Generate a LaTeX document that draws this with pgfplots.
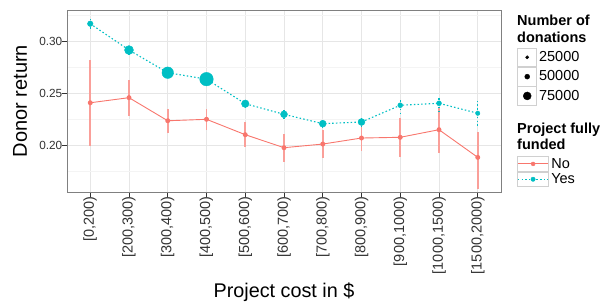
\documentclass[border=0pt]{standalone}
\usepackage{fontspec}
\setmainfont{Liberation Sans}
\usepackage{pgfplots}
\usepackage{pgfplotstable}
\pgfplotsset{compat=1.18}
\definecolor{redc}{HTML}{F8766D}
\definecolor{tealc}{HTML}{00BFC4}
\definecolor{gridmaj}{HTML}{E6E6E6}
\definecolor{gridmin}{HTML}{F4F4F4}
\definecolor{borderc}{HTML}{808080}
\definecolor{tickc}{HTML}{333333}
\definecolor{keyb}{HTML}{D0D0D0}

% Project not fully funded
\pgfplotstableread{
x y ep em
0 0.2413 0.0411 0.0416
1 0.2462 0.0170 0.0174
2 0.2240 0.0116 0.0115
3 0.2254 0.0099 0.0103
4 0.2106 0.0119 0.0121
5 0.1981 0.0129 0.0135
6 0.2016 0.0135 0.0131
7 0.2074 0.0122 0.0122
8 0.2081 0.0188 0.0187
9 0.2154 0.0215 0.0221
10 0.1888 0.0243 0.0304
}\nodata

% Project fully funded; r = marker radius (bp)
\pgfplotstableread{
x y ep em r
0 0.3173 0.0048 0.0061 2.8
1 0.2920 0.0040 0.0040 4.5
2 0.2702 0.0040 0.0040 5.8
3 0.2640 0.0040 0.0040 6.8
4 0.2404 0.0040 0.0040 3.8
5 0.2302 0.0040 0.0040 3.5
6 0.2212 0.0040 0.0040 3.5
7 0.2228 0.0040 0.0040 3.5
8 0.2389 0.0063 0.0081 2.5
9 0.2408 0.0069 0.0086 2.5
10 0.2312 0.0118 0.0129 2.2
}\yesdata

\begin{document}
\begin{tikzpicture}
\begin{axis}[
  scale only axis, width=434bp, height=182bp,
  xmin=-0.6, xmax=10.6, ymin=0.1555, ymax=0.3305,
  axis line style={draw=borderc, line width=0.8bp},
  xtick={0,...,10},
  xticklabels={{[0,200)},{[200,300)},{[300,400)},{[400,500)},{[500,600)},{[600,700)},{[700,800)},{[800,900)},{[900,1000)},{[1000,1500)},{[1500,2000)}},
  ytick={0.20,0.25,0.30},
  minor ytick={0.175,0.225,0.275,0.325},
  yticklabel style={/pgf/number format/fixed, /pgf/number format/fixed zerofill, /pgf/number format/precision=2},
  /pgf/number format/assume math mode=true,
  grid=both,
  major grid style={draw=gridmaj, line width=0.9bp},
  minor grid style={draw=gridmin, line width=0.5bp},
  tick align=outside, tick pos=left,
  major tick length=4.5bp, minor tick length=0pt,
  tick style={draw=tickc, line width=0.8bp},
  xticklabel style={rotate=90, anchor=east, inner sep=0pt, text=tickc, font=\fontsize{14.5bp}{16bp}\selectfont},
  yticklabel style={anchor=east, inner sep=0pt, text=tickc, font=\fontsize{11.8bp}{13bp}\selectfont},
  xlabel={Project cost in \$},
  ylabel={Donor return},
  xlabel style={at={(axis description cs:0.5,-0.577)}, anchor=base, inner sep=0pt, font=\fontsize{19.8bp}{22bp}\selectfont},
  ylabel style={at={(axis description cs:-0.0922,0.5)}, anchor=base, inner sep=0pt, font=\fontsize{20bp}{22bp}\selectfont},
  legend style={at={(1.0376,0.7929)}, anchor=north west, draw=none, fill=none, inner sep=0pt, outer sep=0pt, row sep=0pt,
    nodes={inner xsep=2.5bp, inner ysep=0pt, font=\fontsize{14.5bp}{16bp}\selectfont, text=black}},
  legend cell align=left,
]
% not funded: line, error bars, points
\addplot[forget plot, redc, line width=0.9bp, mark=*, mark size=2bp, mark options={solid},
  error bars/.cd, y dir=both, y explicit, error mark=none,
  error bar style={draw=redc!70, line width=1.6bp, solid}]
  table[x=x, y=y, y error plus=ep, y error minus=em] {\nodata};
% funded: dotted line with dotted error bars
\addplot[forget plot, tealc, line width=1.1bp, dash pattern=on 1.5bp off 2.2bp, mark=none,
  error bars/.cd, y dir=both, y explicit, error mark=none,
  error bar style={draw=tealc, line width=1.3bp, dash pattern=on 1.5bp off 2.2bp}]
  table[x=x, y=y, y error plus=ep, y error minus=em] {\yesdata};
% funded: points sized by number of donations
\addplot[forget plot, scatter, only marks, mark=*,
  scatter/use mapped color={draw=tealc, fill=tealc},
  visualization depends on={\thisrow{r} \as \perpointmarksize},
  scatter/@pre marker code/.append style={/tikz/mark size=\perpointmarksize}]
  table[x=x, y=y] {\yesdata};
% legend: number of donations
\addlegendimage{legend image code/.code={
  \path[draw=none, fill=none] (0bp,-9.65bp) rectangle (19.3bp,9.65bp);
  \fill[black] (9.65bp,0bp) circle (1.6bp);}}
\addlegendentry{\hspace*{-12.2bp}25000}
\addlegendimage{legend image code/.code={
  \path[draw=none, fill=none] (0bp,-9.65bp) rectangle (19.3bp,9.65bp);
  \fill[black] (9.65bp,0bp) circle (2.5bp);}}
\addlegendentry{\hspace*{-12.2bp}50000}
\addlegendimage{legend image code/.code={
  \path[draw=none, fill=none] (0bp,-9.65bp) rectangle (19.3bp,9.65bp);
  \fill[black] (9.65bp,0bp) circle (4bp);}}
\addlegendentry{\hspace*{-12.2bp}75000}
% spacer row for the second legend title
\addlegendimage{legend image code/.code={
  \path[draw=none, fill=none] (0bp,-25.35bp) rectangle (0.1bp,25.35bp);}}
\addlegendentry{}
% legend: project fully funded
\addlegendimage{legend image code/.code={
  \path[draw=none, fill=none] (0bp,-7.65bp) rectangle (31bp,7.65bp);
  \draw[redc, line width=0.9bp] (0.3bp,0bp) -- (30.7bp,0bp);
  \fill[redc] (15.5bp,0bp) circle (2bp);}}
\addlegendentry{No}
\addlegendimage{legend image code/.code={
  \path[draw=none, fill=none] (0bp,-7.65bp) rectangle (31bp,7.65bp);
  \draw[tealc, line width=1.1bp, dash pattern=on 1.5bp off 2.2bp] (0.3bp,0bp) -- (30.7bp,0bp);
  \fill[tealc] (15.5bp,0bp) circle (2.2bp);}}
\addlegendentry{Yes}
\end{axis}
% legend key frames
\begin{scope}[draw=keyb, line width=0.6bp]
\draw (450.6bp,125.3bp) rectangle (469.3bp,144.0bp);
\draw (450.6bp,106.0bp) rectangle (469.3bp,124.7bp);
\draw (450.6bp,86.7bp) rectangle (469.3bp,105.4bp);
\draw (450.6bp,20.7bp) rectangle (481.0bp,35.4bp);
\draw (450.6bp,5.4bp) rectangle (481.0bp,20.1bp);
\end{scope}
\node[anchor=base west, inner sep=0pt, font=\bfseries\fontsize{14.5bp}{16bp}\selectfont] at (450bp,166bp) {Number of};
\node[anchor=base west, inner sep=0pt, font=\bfseries\fontsize{14.5bp}{16bp}\selectfont] at (450bp,149.3bp) {donations};
\node[anchor=base west, inner sep=0pt, font=\bfseries\fontsize{14.5bp}{16bp}\selectfont] at (450bp,58.7bp) {Project fully};
\node[anchor=base west, inner sep=0pt, font=\bfseries\fontsize{14.5bp}{16bp}\selectfont] at (450bp,42bp) {funded};
\pgfresetboundingbox
\path[use as bounding box] (-67bp,-111bp) rectangle (540bp,192bp);
\end{tikzpicture}
\end{document}
